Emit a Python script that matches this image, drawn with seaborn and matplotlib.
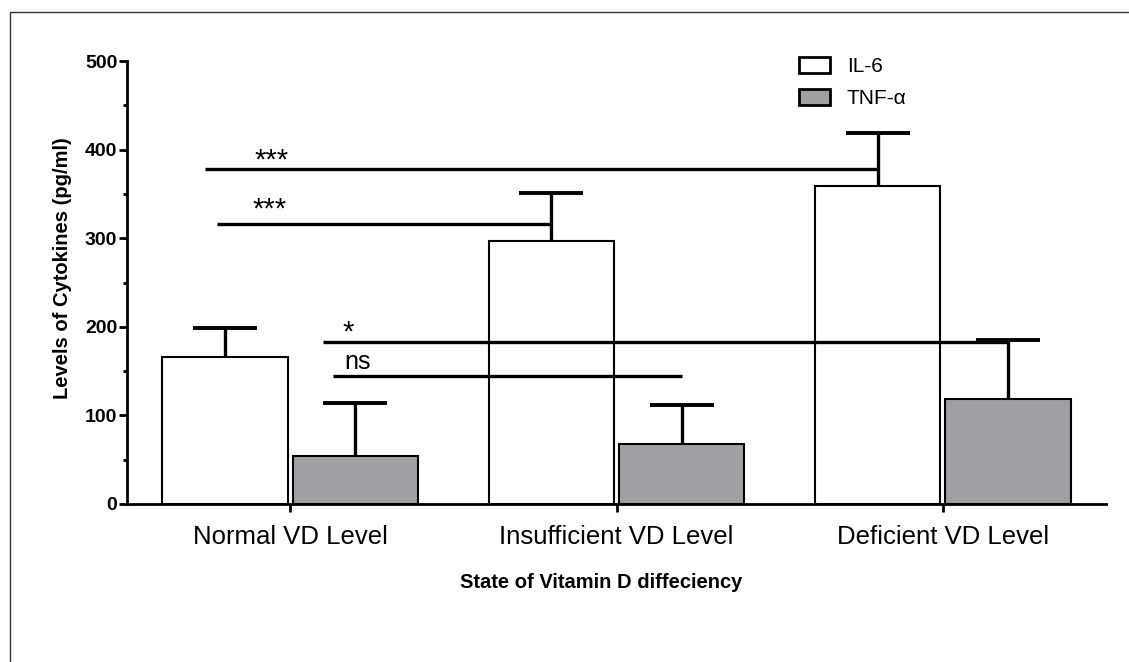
import matplotlib
matplotlib.use('Agg')  # no display
import matplotlib.pyplot as plt
import matplotlib.lines as mlines
from matplotlib.patches import Patch
from matplotlib.ticker import MultipleLocator
import pandas as pd
import seaborn as sns
import numpy as np

# data
groups = ['Normal VD Level', 'Insufficient VD Level', 'Deficient VD Level']
cytokines = ['IL-6', 'TNF-α']
il6_mean = [166, 297, 359]
il6_err = [33, 54, 60]
tnf_mean = [54, 68, 118]
tnf_err = [60, 44, 67]

# significance lines
sig_labels = ['***', '***', '*', 'ns']
sig_y = [378, 316, 183, 145]
sig_x0 = [-0.26, -0.225, 0.10, 0.13]
sig_x1 = [1.8, 0.8, 2.2, 1.2]
sig_text_x = [-0.058, -0.064, 0.177, 0.208]
sig_text_y = [379, 323, 184, 152]
sig_text_size = [21, 21, 21, 18]

colors = {'IL-6': 'white', 'TNF-α': '#a19fa4'}

df = pd.DataFrame({
    'group': groups * 2,
    'cytokine': [cytokines[0]] * 3 + [cytokines[1]] * 3,
    'value': il6_mean + tnf_mean,
})

sns.set_style('ticks')
plt.rcParams['font.family'] = ['Liberation Sans', 'DejaVu Sans']
plt.rcParams['text.color'] = 'black'
plt.rcParams['axes.labelcolor'] = 'black'
plt.rcParams['xtick.color'] = 'black'
plt.rcParams['ytick.color'] = 'black'

fig = plt.figure(figsize=(11.29, 6.62), dpi=100)
ax = fig.add_axes([127 / 1129, 158 / 662, 979 / 1129, 443 / 662])

sns.barplot(data=df, x='group', y='value', hue='cytokine', order=groups,
            hue_order=cytokines, palette=colors, saturation=1,
            edgecolor='black', linewidth=1.5, width=0.8, gap=0.04,
            errorbar=None, legend=False, ax=ax)

# one-sided error bars on top of each bar
for cont, means, errs in zip(ax.containers, [il6_mean, tnf_mean], [il6_err, tnf_err]):
    xs = [b.get_x() + b.get_width() / 2 for b in cont]
    eb = ax.errorbar(xs, means, yerr=[np.zeros(len(errs)), errs], fmt='none',
                     ecolor='black', elinewidth=2.4, capsize=23, capthick=2.8, zorder=4)
    eb[1][0].set_visible(False)  # no cap at the bar top

# significance annotations
for lab, y, x0, x1, tx, ty, fs in zip(sig_labels, sig_y, sig_x0, sig_x1,
                                       sig_text_x, sig_text_y, sig_text_size):
    ax.plot([x0, x1], [y, y], color='black', lw=2.4, solid_capstyle='butt', zorder=5)
    ax.text(tx, ty, lab, ha='center', va='baseline', fontsize=fs)

ax.set_xlim(-0.5, 2.5)
ax.set_ylim(0, 500)
ax.yaxis.set_major_locator(MultipleLocator(100))
ax.yaxis.set_minor_locator(MultipleLocator(50))

sns.despine(ax=ax)
for s in ['left', 'bottom']:
    ax.spines[s].set_linewidth(2)
    ax.spines[s].set_color('black')

ax.tick_params(axis='y', which='major', length=6, width=2, pad=1, labelsize=14)
ax.tick_params(axis='y', which='minor', length=3, width=2)
ax.tick_params(axis='x', length=6, width=2, pad=9, labelsize=18.5)
for t in ax.get_yticklabels():
    t.set_fontweight('bold')

ax.set_ylabel('Levels of Cytokines (pg/ml)', fontsize=14.5, fontweight='bold')
ax.yaxis.set_label_coords(-0.0565, 0.533)
ax.set_xlabel('State of Vitamin D diffeciency', fontsize=14.5, fontweight='bold')
ax.xaxis.set_label_coords(0.484, -0.156)

handles = [Patch(facecolor=colors[c], edgecolor='black', linewidth=2) for c in cytokines]
fig.legend(handles, cytokines, loc='upper left',
           bbox_to_anchor=(799 / 1129, 1 - 57 / 662), frameon=False, fontsize=15,
           handlelength=1.5, handleheight=0.8, handletextpad=0.8,
           labelspacing=0.6, borderpad=0, borderaxespad=0)

# frame line seen at left and top of the original picture
fig.add_artist(mlines.Line2D([10 / 1129, 10 / 1129, 1], [0, 1 - 12 / 662, 1 - 12 / 662],
                             transform=fig.transFigure, color='#333333', lw=1))

fig.savefig('out.png', dpi=100)
